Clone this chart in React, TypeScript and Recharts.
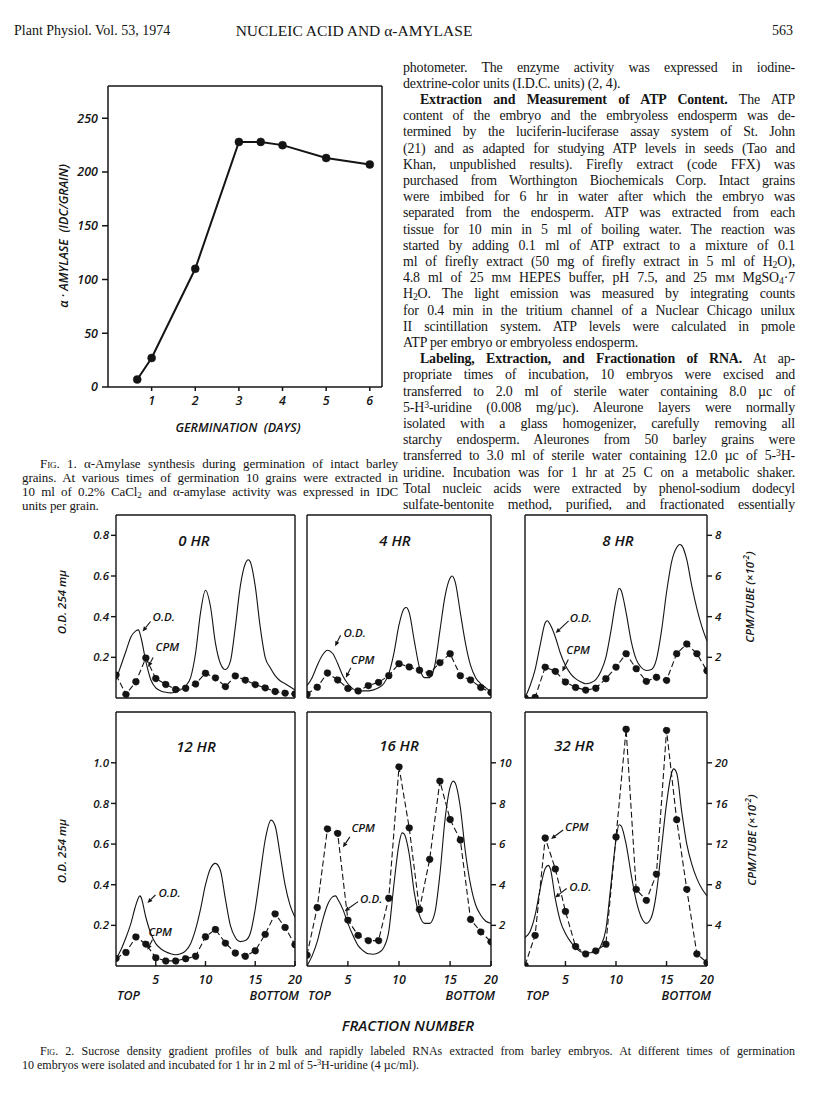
import React from "react";
import { ComposedChart, Line, XAxis, YAxis, ReferenceLine, ReferenceDot } from "recharts";

const INK = "#141414";
const SANS = "'Open Sans', 'DejaVu Sans', sans-serif";
const SERIF = "'Liberation Serif', 'DejaVu Serif', serif";

// ---------- Fig. 1: alpha-amylase vs germination
const germDays = [0.67, 1, 2, 3, 3.5, 4, 5, 6];
const amylaseIDC = [7, 27, 110, 228, 228, 225, 213, 207];
const fig1DayTicks = [1, 2, 3, 4, 5, 6];
const fig1AmylaseTicks = [0, 50, 100, 150, 200, 250];

// ---------- Fig. 2: sucrose gradient profiles
const fractions = [1, 2, 3, 4, 5, 6, 7, 8, 9, 10, 11, 12, 13, 14, 15, 16, 17, 18, 19];
const fractionTicks = [5, 10, 15, 19];
const fractionTickLabels = ["5", "10", "15", "20"];

// 0 HR
const odX0 = [1, 1.5, 2, 2.5, 3, 3.25, 3.5, 4, 4.5, 5, 5.5, 6, 6.5, 7, 7.5, 8, 8.5, 9, 9.5, 10, 10.5, 11, 11.5, 12, 12.5, 13, 13.5, 14, 14.3, 14.5, 15, 15.5, 16, 16.5, 17, 17.5, 18, 18.5, 19];
const od0 = [0.09, 0.16, 0.23, 0.3, 0.33, 0.335, 0.3, 0.18, 0.09, 0.05, 0.035, 0.028, 0.025, 0.03, 0.04, 0.06, 0.1, 0.22, 0.42, 0.53, 0.45, 0.27, 0.17, 0.14, 0.18, 0.35, 0.55, 0.66, 0.68, 0.67, 0.55, 0.35, 0.2, 0.15, 0.11, 0.085, 0.07, 0.055, 0.04];
const cpm0 = [1.14, 0.18, 0.8, 1.97, 0.96, 0.67, 0.42, 0.48, 0.69, 1.22, 0.99, 0.56, 1.09, 0.88, 0.66, 0.5, 0.32, 0.24, 0.2];

// 4 HR
const odX4 = [1, 1.5, 2, 2.5, 3, 3.5, 4, 4.5, 5, 5.5, 6, 7, 7.5, 8, 8.5, 9, 9.5, 10, 10.5, 10.7, 11, 11.5, 12, 12.5, 13, 13.5, 14, 14.5, 15, 15.2, 15.5, 16, 16.5, 17, 17.5, 18, 18.5, 19];
const od4 = [0.06, 0.1, 0.16, 0.21, 0.235, 0.22, 0.17, 0.11, 0.07, 0.045, 0.035, 0.035, 0.04, 0.05, 0.07, 0.12, 0.22, 0.36, 0.44, 0.445, 0.42, 0.28, 0.15, 0.1, 0.1, 0.16, 0.33, 0.5, 0.59, 0.6, 0.57, 0.42, 0.27, 0.16, 0.1, 0.07, 0.05, 0.03];
const cpm4 = [0.19, 0.53, 1.23, 0.89, 0.47, 0.35, 0.61, 0.77, 1.1, 1.69, 1.53, 1.37, 1.21, 1.74, 2.18, 1.1, 0.89, 0.52, 0.27];

// 8 HR
const odX8 = [1, 1.5, 2, 2.5, 3, 3.2, 3.5, 4, 4.5, 5, 5.5, 6, 6.5, 7, 7.5, 8, 8.5, 9, 9.5, 10, 10.3, 10.5, 11, 11.5, 12, 12.5, 13, 13.5, 14, 14.5, 15, 15.5, 16, 16.3, 16.5, 17, 17.5, 18, 18.5, 19];
const od8 = [0.0, 0.06, 0.14, 0.26, 0.37, 0.38, 0.36, 0.3, 0.22, 0.16, 0.12, 0.095, 0.08, 0.07, 0.075, 0.09, 0.13, 0.2, 0.33, 0.48, 0.54, 0.53, 0.42, 0.28, 0.19, 0.15, 0.135, 0.14, 0.19, 0.33, 0.52, 0.67, 0.74, 0.755, 0.75, 0.68, 0.55, 0.44, 0.35, 0.28];
const cpm8 = [0, 0.03, 1.52, 1.31, 0.79, 0.52, 0.39, 0.48, 0.95, 1.52, 2.18, 1.44, 0.82, 1.02, 0.87, 2.18, 2.66, 2.18, 1.34];

// 12 HR
const odX12 = [1, 1.5, 2, 2.5, 3, 3.4, 3.5, 4, 4.5, 5, 5.5, 6, 6.5, 7, 7.5, 8, 8.5, 9, 9.5, 10, 10.5, 11, 11.5, 12, 12.5, 13, 13.5, 14, 14.5, 15, 15.5, 16, 16.6, 17, 17.5, 18, 18.5, 19];
const od12 = [0.035, 0.08, 0.14, 0.21, 0.3, 0.345, 0.34, 0.24, 0.16, 0.11, 0.085, 0.07, 0.06, 0.055, 0.06, 0.075, 0.11, 0.18, 0.28, 0.4, 0.48, 0.505, 0.47, 0.33, 0.2, 0.14, 0.12, 0.125, 0.16, 0.28, 0.45, 0.62, 0.718, 0.69, 0.55, 0.4, 0.3, 0.24];
const cpm12 = [0.38, 0.67, 1.43, 1.08, 0.41, 0.25, 0.25, 0.36, 0.48, 1.44, 1.8, 1.13, 0.64, 0.48, 0.75, 1.56, 2.57, 1.9, 1.05];

// 16 HR
const odX16 = [1, 1.5, 2, 2.5, 3, 3.5, 3.8, 4, 4.5, 5, 5.5, 6, 6.5, 7, 7.5, 8, 8.5, 9, 9.5, 10, 10.3, 10.5, 11, 11.5, 12, 12.5, 13, 13.5, 14, 14.5, 15, 15.3, 15.5, 16, 16.5, 17, 17.5, 18, 18.5, 19];
const od16 = [0.0, 0.05, 0.12, 0.22, 0.3, 0.34, 0.345, 0.33, 0.28, 0.21, 0.15, 0.1, 0.075, 0.06, 0.058, 0.065, 0.09, 0.17, 0.4, 0.6, 0.655, 0.65, 0.55, 0.36, 0.25, 0.21, 0.21, 0.26, 0.45, 0.72, 0.88, 0.91, 0.9, 0.78, 0.56, 0.4, 0.3, 0.25, 0.22, 0.21];
const cpm16 = [0.54, 2.88, 6.75, 6.53, 2.26, 1.51, 1.25, 1.25, 3.34, 9.8, 6.8, 2.78, 5.25, 9.1, 7.21, 6.2, 2.29, 1.68, 1.19];

// 32 HR
const odX32 = [1, 1.5, 2, 2.5, 3, 3.3, 3.5, 4, 4.5, 5, 5.5, 6, 6.5, 7, 7.5, 8, 8.5, 9, 9.5, 10, 10.3, 10.5, 11, 11.5, 12, 12.5, 13, 13.5, 14, 14.5, 15, 15.5, 15.7, 16, 16.5, 17, 17.5, 18, 18.5, 19];
const od32 = [0.14, 0.17, 0.25, 0.38, 0.48, 0.495, 0.48, 0.33, 0.22, 0.16, 0.12, 0.09, 0.07, 0.065, 0.065, 0.07, 0.1, 0.18, 0.4, 0.62, 0.695, 0.69, 0.6, 0.45, 0.32, 0.24, 0.21, 0.24, 0.36, 0.58, 0.8, 0.95, 0.97, 0.95, 0.76, 0.6, 0.5, 0.43, 0.38, 0.345];
const cpm32 = [0.07, 3.02, 12.6, 9.55, 5.37, 1.92, 1.19, 1.49, 2.15, 12.7, 23.3, 7.55, 6.46, 9.05, 23.2, 14.4, 7.55, 1.19, 0.33];

// panel frames (plot areas) on the page
const ROWS = [
  { top: 515, bottom: 698, odMax: 0.9, odTicks: [0.2, 0.4, 0.6, 0.8] },
  { top: 712, bottom: 966, odMax: 1.25, odTicks: [0.2, 0.4, 0.6, 0.8, 1.0] },
];
const COLS = [
  { left: 116, right: 295 },
  { left: 307, right: 491 },
  { left: 525, right: 707 },
];

type Note = { label: string; axis: "od" | "cpm"; x: number; y: number; dx: number; dy: number; ox: number; oy: number };

const panels = [
  { title: "0 HR", tx: 194, ty: 540, row: 0, col: 0, odX: odX0, od: od0, cpm: cpm0, cpmMax: 9, cpmTicks: [2, 4, 6, 8], leftLabels: true, rightLabels: false,
    notes: [
      { label: "O.D.", axis: "od", x: 3.67, y: 0.327, dx: 8, dy: -10, ox: 2, oy: -4 },
      { label: "CPM", axis: "cpm", x: 4.23, y: 1.53, dx: 5, dy: -9.5, ox: 2.5, oy: -9 },
    ] as Note[] },
  { title: "4 HR", tx: 395, ty: 540, row: 0, col: 1, odX: odX4, od: od4, cpm: cpm4, cpmMax: 9, cpmTicks: [2, 4, 6, 8], leftLabels: false, rightLabels: false,
    notes: [
      { label: "O.D.", axis: "od", x: 3.75, y: 0.255, dx: 5.5, dy: -11, ox: 3, oy: -1 },
      { label: "CPM", axis: "cpm", x: 4.8, y: 1.0, dx: 5, dy: -10, ox: 0, oy: -7 },
    ] as Note[] },
  { title: "8 HR", tx: 618, ty: 540, row: 0, col: 2, odX: odX8, od: od8, cpm: cpm8, cpmMax: 9, cpmTicks: [2, 4, 6, 8], leftLabels: false, rightLabels: true,
    notes: [
      { label: "O.D.", axis: "od", x: 4.03, y: 0.32, dx: 13, dy: -12, ox: 1, oy: -2 },
      { label: "CPM", axis: "cpm", x: 4.69, y: 1.3, dx: 6, dy: -12, ox: -2, oy: -9 },
    ] as Note[] },
  { title: "12 HR", tx: 196, ty: 746, row: 1, col: 0, odX: odX12, od: od12, cpm: cpm12, cpmMax: 12.5, cpmTicks: [2, 4, 6, 8, 10], leftLabels: true, rightLabels: false,
    notes: [
      { label: "O.D.", axis: "od", x: 4.16, y: 0.31, dx: 8, dy: -8, ox: 3, oy: -1 },
      { label: "CPM", axis: "cpm", x: 4.16, y: 0.8, dx: 5, dy: -10, ox: -4, oy: -7 },
    ] as Note[] },
  { title: "16 HR", tx: 399, ty: 745, row: 1, col: 1, odX: odX16, od: od16, cpm: cpm16, cpmMax: 12.5, cpmTicks: [2, 4, 6, 8, 10], leftLabels: false, rightLabels: true,
    notes: [
      { label: "CPM", axis: "cpm", x: 4.51, y: 5.84, dx: 7, dy: -10.5, ox: 1.5, oy: -7.5 },
      { label: "O.D.", axis: "od", x: 4.68, y: 0.27, dx: 13.5, dy: -9.5, ox: 2, oy: -1.5 },
    ] as Note[] },
  { title: "32 HR", tx: 574, ty: 745, row: 1, col: 2, odX: odX32, od: od32, cpm: cpm32, cpmMax: 25, cpmTicks: [4, 8, 12, 16, 20], leftLabels: false, rightLabels: true,
    notes: [
      { label: "CPM", axis: "cpm", x: 3.58, y: 12.5, dx: 12, dy: -9, ox: 2, oy: -2.5 },
      { label: "O.D.", axis: "od", x: 3.98, y: 0.337, dx: 11.5, dy: -9, ox: 2.5, oy: -1 },
    ] as Note[] },
];

const figTick = { fontSize: 11.5, fontStyle: "italic", fontFamily: SANS, fontWeight: 600, fill: INK };

function Pointer({ cx, cy, note }: { cx?: number; cy?: number; note: Note }) {
  if (cx == null || cy == null) return null;
  const tx = cx + note.dx;
  const ty = cy + note.dy;
  const ang = Math.atan2(cy - ty, cx - tx);
  const L = 5;
  const W = 2.2;
  const bx = cx - L * Math.cos(ang);
  const by = cy - L * Math.sin(ang);
  const px = -Math.sin(ang) * W;
  const py = Math.cos(ang) * W;
  return (
    <g>
      <line x1={tx} y1={ty} x2={bx} y2={by} stroke={INK} strokeWidth={1.1} />
      <polygon points={`${cx},${cy} ${bx + px},${by + py} ${bx - px},${by - py}`} fill={INK} />
      <text x={tx + note.ox} y={ty + note.oy} fontSize={11.5} fontStyle="italic" fontWeight={600} fontFamily={SANS} fill={INK} dominantBaseline="middle">
        {note.label}
      </text>
    </g>
  );
}

function Panel({ p }: { p: (typeof panels)[number] }) {
  const row = ROWS[p.row];
  const col = COLS[p.col];
  const padL = 40;
  const padR = 40;
  const padT = 10;
  const padB = 34;
  const plotW = col.right - col.left;
  const plotH = row.bottom - row.top;
  const odData = p.odX.map((f, i) => ({ f, od: p.od[i] }));
  const cpmData = fractions.map((f, i) => ({ f, cpm: p.cpm[i] }));
  const bottomRow = p.row === 1;
  return (
    <div style={{ position: "absolute", left: col.left - padL, top: row.top - padT }}>
      <ComposedChart width={plotW + padL + padR} height={plotH + padT + padB} margin={{ top: padT, right: 0, bottom: 0, left: 0 }}>
        <XAxis
          dataKey="f"
          type="number"
          domain={[1, 19]}
          allowDataOverflow
          ticks={bottomRow ? fractionTicks : fractionTicks.slice(0, 3)}
          tickFormatter={(v: number) => fractionTickLabels[fractionTicks.indexOf(v)]}
          height={padB}
          stroke={INK}
          strokeWidth={1.4}
          tickSize={-5}
          tickMargin={14}
          tick={bottomRow ? { ...figTick, fontSize: 12.5 } : false}
        />
        <YAxis
          yAxisId="od"
          type="number"
          domain={[0, row.odMax]}
          allowDataOverflow
          ticks={row.odTicks}
          width={padL}
          stroke={INK}
          strokeWidth={1.4}
          tickSize={p.leftLabels ? 5 : -4}
          tickMargin={2}
          tickFormatter={(v: number) => v.toFixed(1)}
          tick={p.leftLabels ? figTick : false}
        />
        <YAxis
          yAxisId="cpm"
          orientation="right"
          type="number"
          domain={[0, p.cpmMax]}
          allowDataOverflow
          ticks={p.cpmTicks}
          width={padR}
          stroke={INK}
          strokeWidth={1.4}
          tickSize={p.rightLabels ? 5 : -4}
          tickMargin={3}
          tick={p.rightLabels ? figTick : false}
        />
        <ReferenceLine yAxisId="od" y={row.odMax} stroke={INK} strokeWidth={1.4} />
        <Line
          yAxisId="od"
          data={odData}
          dataKey="od"
          type="monotone"
          stroke={INK}
          strokeWidth={1.1}
          dot={false}
          isAnimationActive={false}
        />
        <Line
          yAxisId="cpm"
          data={cpmData}
          dataKey="cpm"
          type="linear"
          stroke={INK}
          strokeWidth={1.1}
          strokeDasharray="6 3"
          dot={{ r: 3.4, fill: INK, stroke: INK, strokeWidth: 0.5 }}
          isAnimationActive={false}
        />
        {p.notes.map((n, i) => (
          <ReferenceDot
            key={i}
            yAxisId={n.axis}
            x={n.x}
            y={n.y}
            r={0}
            shape={(sp: any) => <Pointer cx={sp.cx} cy={sp.cy} note={n} />}
          />
        ))}
      </ComposedChart>
    </div>
  );
}

function Fig1() {
  const data = germDays.map((d, i) => ({ day: d, idc: amylaseIDC[i] }));
  return (
    <div style={{ position: "absolute", left: 20, top: 76 }}>
      <ComposedChart width={370} height={341} data={data} margin={{ top: 10, right: 8, bottom: 0, left: 0 }}>
        <XAxis
          dataKey="day"
          type="number"
          domain={[0, 6.28]}
          allowDataOverflow
          ticks={fig1DayTicks}
          height={30}
          stroke={INK}
          strokeWidth={1.5}
          tickSize={4}
          tickMargin={5}
          tick={{ ...figTick, fontSize: 12.5 }}
        />
        <YAxis
          type="number"
          domain={[0, 280]}
          allowDataOverflow
          ticks={fig1AmylaseTicks}
          width={88}
          stroke={INK}
          strokeWidth={1.5}
          tickSize={6}
          tickMargin={4}
          tick={{ ...figTick, fontSize: 12.5 }}
        />
        <ReferenceLine y={280} stroke={INK} strokeWidth={1.5} />
        <ReferenceLine x={6.28} stroke={INK} strokeWidth={1.5} />
        <Line
          dataKey="idc"
          type="linear"
          stroke={INK}
          strokeWidth={2}
          dot={{ r: 4, fill: INK, stroke: INK, strokeWidth: 0.5 }}
          isAnimationActive={false}
        />
      </ComposedChart>
    </div>
  );
}

function Label({ x, y, children, anchor = "middle", rotate = 0, style }: any) {
  const tx = anchor === "start" ? "0" : anchor === "end" ? "-100%" : "-50%";
  return (
    <div
      style={{
        position: "absolute",
        left: x,
        top: y,
        transform: `translate(${tx}, -50%) rotate(${rotate}deg)`,
        whiteSpace: "nowrap",
        lineHeight: 1,
        color: INK,
        ...style,
      }}
    >
      {children}
    </div>
  );
}

const figLabel = { fontFamily: SANS, fontStyle: "italic", fontWeight: 600, fontSize: 11.5 };

function TextLine({ x, y, w, size, last, indent = 0, spacing = 0, children }: any) {
  return (
    <div
      style={{
        position: "absolute",
        left: x + indent,
        top: y - size * 0.68,
        width: w - indent,
        fontFamily: SERIF,
        fontSize: size,
        letterSpacing: spacing,
        lineHeight: `${size * 1.2}px`,
        textAlign: "justify",
        textAlignLast: last ? "left" : "justify",
        color: INK,
      }}
    >
      {children}
    </div>
  );
}

const Sub = ({ children }: any) => <span style={{ fontSize: "0.7em", verticalAlign: "-0.25em", lineHeight: 0 }}>{children}</span>;
const Sup = ({ children }: any) => <span style={{ fontSize: "0.7em", verticalAlign: "0.45em", lineHeight: 0 }}>{children}</span>;
const SC = ({ children }: any) => <span style={{ fontVariant: "small-caps" }}>{children}</span>;

const rightColumn: { c: React.ReactNode; last?: boolean; indent?: boolean }[] = [
  { c: "photometer. The enzyme activity was expressed in iodine-" },
  { c: "dextrine-color units (I.D.C. units) (2, 4).", last: true },
  { c: <><b>Extraction and Measurement of ATP Content.</b> The ATP</>, indent: true },
  { c: "content of the embryo and the embryoless endosperm was de-" },
  { c: "termined by the luciferin-luciferase assay system of St. John" },
  { c: "(21) and as adapted for studying ATP levels in seeds (Tao and" },
  { c: "Khan, unpublished results). Firefly extract (code FFX) was" },
  { c: "purchased from Worthington Biochemicals Corp. Intact grains" },
  { c: "were imbibed for 6 hr in water after which the embryo was" },
  { c: "separated from the endosperm. ATP was extracted from each" },
  { c: "tissue for 10 min in 5 ml of boiling water. The reaction was" },
  { c: "started by adding 0.1 ml of ATP extract to a mixture of 0.1" },
  { c: <>ml of firefly extract (50 mg of firefly extract in 5 ml of H<Sub>2</Sub>O),</> },
  { c: <>4.8 ml of 25 m<SC>m</SC> HEPES buffer, pH 7.5, and 25 m<SC>m</SC> MgSO<Sub>4</Sub>·7</> },
  { c: <>H<Sub>2</Sub>O. The light emission was measured by integrating counts</> },
  { c: "for 0.4 min in the tritium channel of a Nuclear Chicago unilux" },
  { c: "II scintillation system. ATP levels were calculated in pmole" },
  { c: "ATP per embryo or embryoless endosperm.", last: true },
  { c: <><b>Labeling, Extraction, and Fractionation of RNA.</b> At ap-</>, indent: true },
  { c: "propriate times of incubation, 10 embryos were excised and" },
  { c: "transferred to 2.0 ml of sterile water containing 8.0 µc of" },
  { c: <>5-H<Sup>3</Sup>-uridine (0.008 mg/µc). Aleurone layers were normally</> },
  { c: "isolated with a glass homogenizer, carefully removing all" },
  { c: "starchy endosperm. Aleurones from 50 barley grains were" },
  { c: <>transferred to 3.0 ml of sterile water containing 12.0 µc of 5-<Sup>3</Sup>H-</> },
  { c: "uridine. Incubation was for 1 hr at 25 C on a metabolic shaker." },
  { c: "Total nucleic acids were extracted by phenol-sodium dodecyl" },
  { c: "sulfate-bentonite method, purified, and fractionated essentially" },
];

const fig1Caption: { c: React.ReactNode; last?: boolean; indent?: boolean }[] = [
  { c: <>F<SC>ig</SC>. 1. α-Amylase synthesis during germination of intact barley</>, indent: true },
  { c: "grains. At various times of germination 10 grains were extracted in" },
  { c: <>10 ml of 0.2% CaCl<Sub>2</Sub> and α-amylase activity was expressed in IDC</> },
  { c: "units per grain.", last: true },
];

export default function App() {
  const bodyGap = 16.2;
  const capGap = 14;
  return (
    <div style={{ position: "absolute", left: 0, top: 0, width: 816, height: 1105, background: "#fff", overflow: "hidden", color: INK }}>
      {/* running head */}
      <Label x={14} y={31} anchor="start" style={{ fontFamily: SERIF, fontSize: 14 }}>Plant Physiol. Vol. 53, 1974</Label>
      <Label x={354} y={31} style={{ fontFamily: SERIF, fontSize: 15.5 }}>NUCLEIC ACID AND α-AMYLASE</Label>
      <Label x={793} y={31} anchor="end" style={{ fontFamily: SERIF, fontSize: 14 }}>563</Label>

      {/* Fig. 1 */}
      <Fig1 />
      <Label x={64} y={236} rotate={-90} style={{ ...figLabel, fontSize: 12.5 }}>α · AMYLASE&nbsp;&nbsp;(IDC/GRAIN)</Label>
      <Label x={238} y={428} style={{ ...figLabel, fontSize: 12.5 }}>GERMINATION&nbsp;&nbsp;(DAYS)</Label>

      {fig1Caption.map((l, i) => (
        <TextLine key={i} x={22} y={465 + i * capGap} w={376} size={13} spacing={-0.1} last={l.last} indent={l.indent ? 18 : 0}>{l.c}</TextLine>
      ))}

      {rightColumn.map((l, i) => (
        <TextLine key={i} x={403} y={69 + i * bodyGap} w={392} size={13.9} spacing={-0.15} last={l.last} indent={l.indent ? 17 : 0}>{l.c}</TextLine>
      ))}

      {/* Fig. 2 panels */}
      {panels.map((p) => (
        <Panel key={p.title} p={p} />
      ))}
      {panels.map((p) => (
        <Label key={"t" + p.title} x={p.tx} y={p.ty} style={{ ...figLabel, fontSize: 15 }}>
          {p.title}
        </Label>
      ))}

      <Label x={62} y={602} rotate={-90} style={figLabel}>O.D. 254 mµ</Label>
      <Label x={62} y={851} rotate={-90} style={figLabel}>O.D. 254 mµ</Label>
      <Label x={749} y={597} rotate={-90} style={figLabel}>CPM/TUBE (×10<sup style={{ fontSize: 8 }}>-2</sup>)</Label>
      <Label x={751} y={840} rotate={-90} style={figLabel}>CPM/TUBE (×10<sup style={{ fontSize: 8 }}>-2</sup>)</Label>

      {COLS.map((c, i) => (
        <React.Fragment key={"tb" + i}>
          <Label x={c.left + 1} y={996} anchor="start" style={{ ...figLabel, fontSize: 12.5 }}>TOP</Label>
          <Label x={c.right + 4} y={996} anchor="end" style={{ ...figLabel, fontSize: 12.5 }}>BOTTOM</Label>
        </React.Fragment>
      ))}
      <Label x={408} y={1025} style={{ ...figLabel, fontSize: 15 }}>FRACTION NUMBER</Label>

      <TextLine x={22} y={1052} w={773} size={12} indent={18}>
        F<SC>ig</SC>. 2. Sucrose density gradient profiles of bulk and rapidly labeled RNAs extracted from barley embryos. At different times of germination
      </TextLine>
      <TextLine x={22} y={1066} w={773} size={12} last>
        10 embryos were isolated and incubated for 1 hr in 2 ml of 5-<Sup>3</Sup>H-uridine (4 µc/ml).
      </TextLine>
    </div>
  );
}
